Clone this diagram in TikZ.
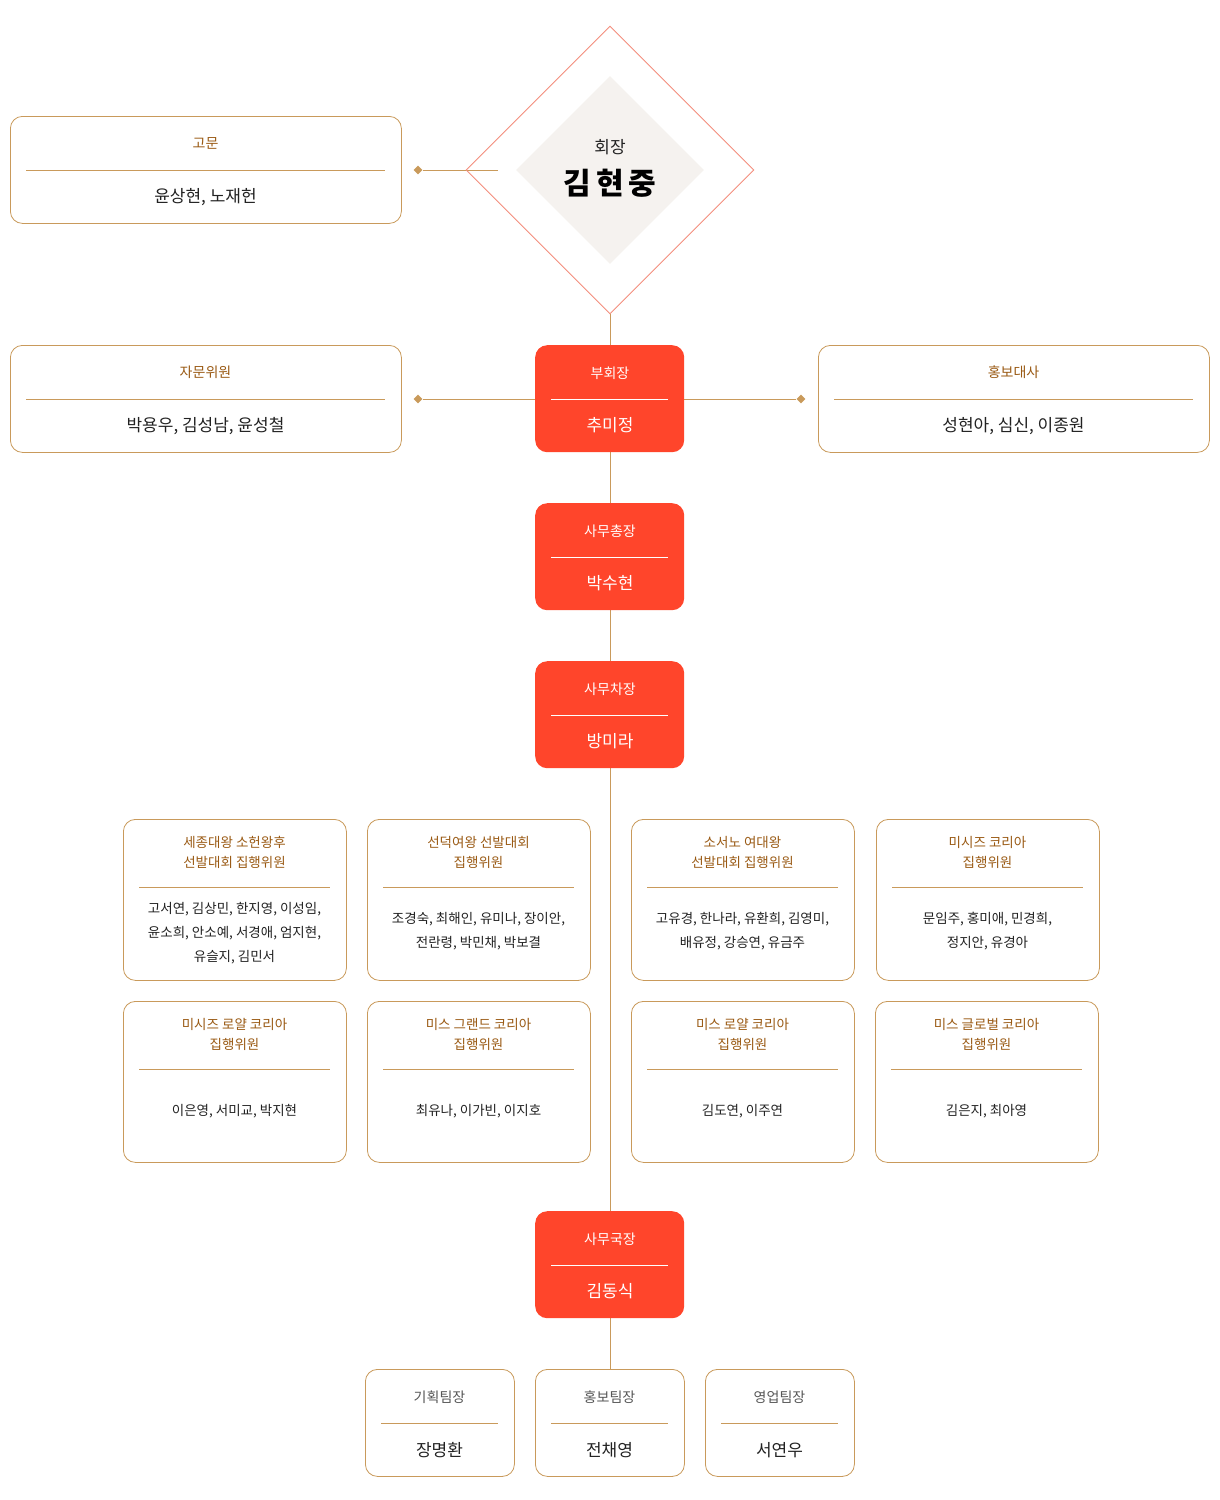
\documentclass[tikz,border=0pt]{standalone}
\usepackage{fontspec}
\setmainfont{Noto Sans CJK KR}
\usetikzlibrary{shapes.geometric}
\definecolor{gold}{HTML}{C99A5B}
\definecolor{ttl}{HTML}{9A5A14}
\definecolor{redb}{HTML}{FF452B}
\definecolor{dline}{HTML}{F38D7D}
\definecolor{inner}{HTML}{F5F2EF}
\definecolor{txt}{HTML}{222222}
\definecolor{gtxt}{HTML}{555555}
\tikzset{
 wbox/.style={draw=gold,line width=0.8pt,rounded corners=12pt,fill=white},
 rbox/.style={fill=redb,rounded corners=12pt},
 conn/.style={draw=gold,line width=1pt},
 mk/.style={diamond,fill=gold,inner sep=0pt,minimum size=9pt},
}
\newcommand{\rb}[4]{%
 \node[rbox,minimum width=149pt,minimum height=107pt,inner sep=0pt,anchor=north west] (#1) at (535,#2) {};
 \draw[white,line width=0.8pt] (551,#2+54) -- (668,#2+54);
 \node[text=white,font=\fontsize{14}{18}\selectfont] at (610,#2+28) {#3};
 \node[text=white,font=\fontsize{17}{20}\selectfont] at (610,#2+80) {#4};
}
\newcommand{\cb}[6]{%
 \node[wbox,minimum width=223pt,minimum height=161pt,anchor=north west,inner sep=0pt] (#1) at (#2,#3) {};
 \draw[gold,line width=0.8pt] (#2+16,#3+68) -- (#2+207,#3+68);
 \node[text=ttl,align=center,font=\fontsize{13.5}{20}\selectfont] at (#2+111.5,#3+33) {#4};
 \node[text=txt,align=center,font=\fontsize{13.5}{24}\selectfont] at (#2+111.5,#3+#6) {#5};
}
\newcommand{\tb}[4]{%
 \node[wbox,minimum width=149pt,minimum height=107pt,anchor=north west,inner sep=0pt] (#1) at (#2,1369) {};
 \draw[gold,line width=0.8pt] (#2+16,1423) -- (#2+133,1423);
 \node[text=gtxt,font=\fontsize{14}{18}\selectfont] at (#2+74.5,1397) {#3};
 \node[text=txt,font=\fontsize{17}{20}\selectfont] at (#2+74.5,1450) {#4};
}
\newcommand{\bb}[5]{%
 \node[wbox,minimum width=391pt,minimum height=107pt,anchor=north west,inner sep=0pt] (#1) at (#2,#3) {};
 \draw[gold,line width=0.8pt] (#2+16,#3+54) -- (#2+375,#3+54);
 \node[text=ttl,font=\fontsize{14}{18}\selectfont] at (#2+195.5,#3+27) {#4};
 \node[text=txt,font=\fontsize{17}{20}\selectfont] at (#2+195.5,#3+81) {#5};
}
\begin{document}
\begin{tikzpicture}[x=1pt,y=-1pt]
\useasboundingbox (0,0) rectangle (1220,1500);
\coordinate (dtop) at (610,314);
\coordinate (spineEnd) at (610,1369);
\draw[conn] (dtop) -- (spineEnd);
\node[mk] (m1) at (418,170) {};
\node[mk] (m2) at (418,399) {};
\node[mk] (m3) at (801,399) {};
\coordinate (c1) at (498,170);
\coordinate (c2) at (535,399);
\coordinate (c3) at (684,399);
\draw[conn] (m1) -- (c1);
\draw[conn] (m2) -- (c2);
\draw[conn] (c3) -- (m3);
\node[diamond,draw=dline,line width=0.9pt,minimum width=288pt,minimum height=288pt,inner sep=0pt] (pres) at (610,170) {};
\node[diamond,fill=inner,minimum width=188pt,minimum height=188pt,inner sep=0pt] (presin) at (610,170) {};
\node[font=\fontsize{17}{20}\selectfont,text=txt] (prest) at (610,147) {회장};
\node[font=\fontsize{30}{34}\selectfont\bfseries,text=black] (presn) at (610,183) {김\,현\,중};
\bb{gomun}{10}{116}{고문}{윤상현, 노재헌}
\bb{jamun}{10}{345}{자문위원}{박용우, 김성남, 윤성철}
\bb{hongbo}{818}{345}{홍보대사}{성현아, 심신, 이종원}
\rb{vp}{345}{부회장}{추미정}
\rb{sg}{503}{사무총장}{박수현}
\rb{dsg}{661}{사무차장}{방미라}
\rb{dir}{1211}{사무국장}{김동식}
\cb{c1b}{123}{819}{세종대왕 소헌왕후\\선발대회 집행위원}{고서연, 김상민, 한지영, 이성임,\\윤소희, 안소예, 서경애, 엄지현,\\유슬지, 김민서}{114}
\cb{c2b}{367}{819}{선덕여왕 선발대회\\집행위원}{조경숙, 최해인, 유미나, 장이안,\\전란령, 박민채, 박보결}{112}
\cb{c3b}{631}{819}{소서노 여대왕\\선발대회 집행위원}{고유경, 한나라, 유환희, 김영미,\\배유정, 강승연, 유금주}{112}
\cb{c4b}{876}{819}{미시즈 코리아\\집행위원}{문임주, 홍미애, 민경희,\\정지안, 유경아}{112}
\cb{c5b}{123}{1001}{미시즈 로얄 코리아\\집행위원}{이은영, 서미교, 박지현}{110}
\cb{c6b}{367}{1001}{미스 그랜드 코리아\\집행위원}{최유나, 이가빈, 이지호}{110}
\cb{c7b}{631}{1001}{미스 로얄 코리아\\집행위원}{김도연, 이주연}{110}
\cb{c8b}{875}{1001}{미스 글로벌 코리아\\집행위원}{김은지, 최아영}{110}
\tb{t1}{365}{기획팀장}{장명환}
\tb{t2}{535}{홍보팀장}{전채영}
\tb{t3}{705}{영업팀장}{서연우}
\end{tikzpicture}
\end{document}
